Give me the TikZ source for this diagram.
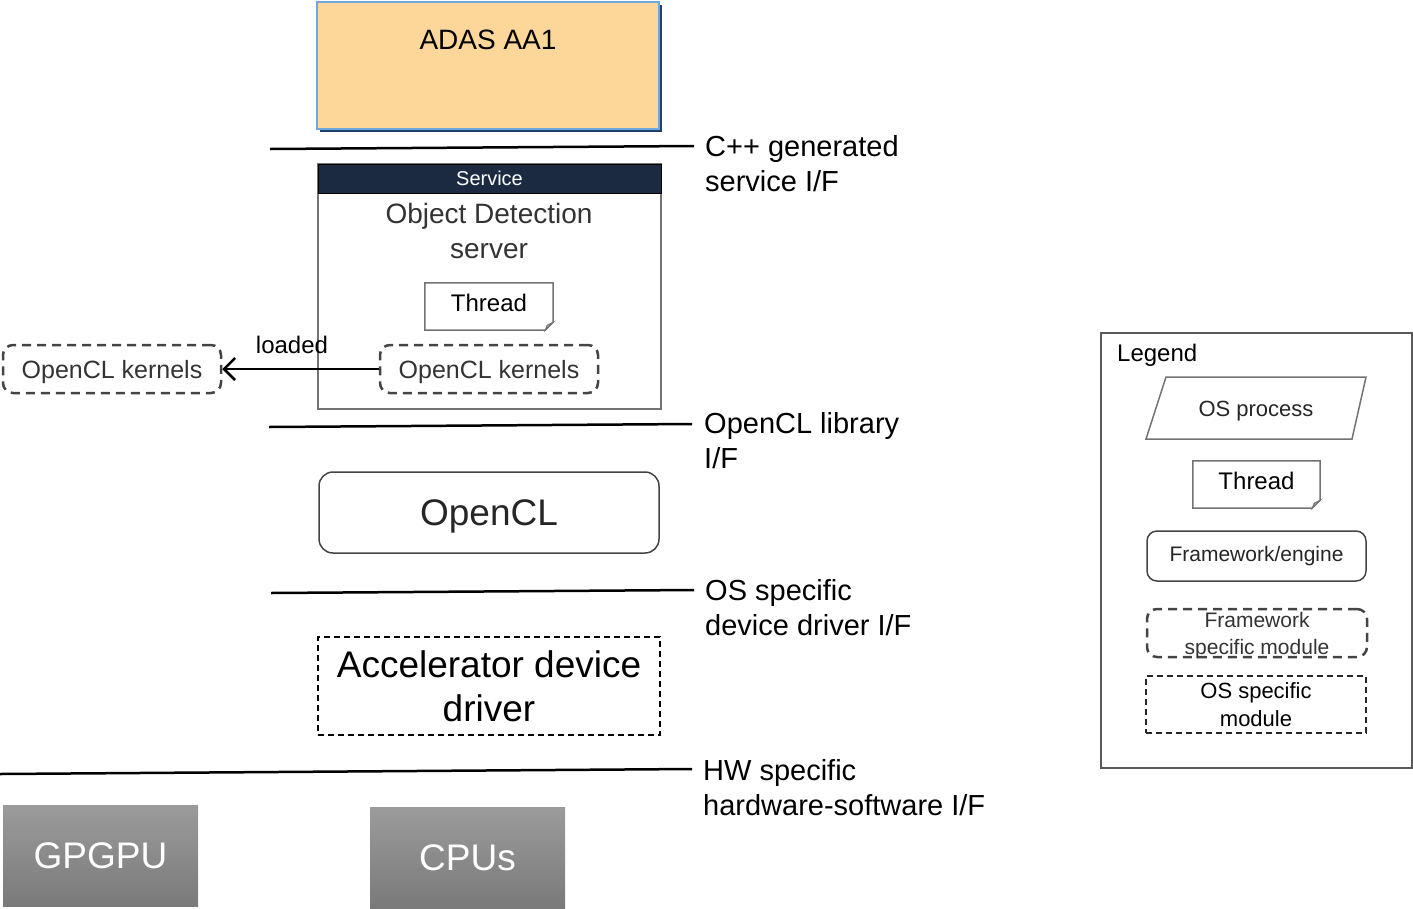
\documentclass[tikz,border=0pt]{standalone}
\usepackage{fontspec}
\setmainfont{Liberation Sans}
\usetikzlibrary{arrows.meta}
\definecolor{adasfill}{HTML}{FDD699}
\definecolor{adasline}{HTML}{6FA8DC}
\definecolor{adasshadow}{HTML}{1F3F6F}
\definecolor{svcnavy}{HTML}{1B2A40}
\definecolor{boxgray}{HTML}{444444}
\definecolor{hwtop}{HTML}{9B9B9B}
\definecolor{hwbottom}{HTML}{7A7A7A}
\tikzset{
  ifline/.style={line width=2.5pt},
  iflabel/.style={font=\fontsize{29}{35}\selectfont, align=left, anchor=west, inner sep=0pt},
  kernelbox/.style={draw=boxgray, line width=2.5pt, dash pattern=on 9pt off 6pt, rounded corners=10pt,
    minimum width=218pt, minimum height=48pt, inner sep=0pt, text=black!80, font=\fontsize{25}{29}\selectfont,
    text depth=0pt},
  engine/.style={draw=boxgray, line width=1.5pt, rounded corners=14pt, inner sep=0pt},
  osmodule/.style={draw=black, line width=2pt, dash pattern=on 6pt off 4pt, inner sep=0pt},
  hwbox/.style={top color=hwtop, bottom color=hwbottom, minimum width=195pt, minimum height=101pt,
    text=white, font=\fontsize{37}{44}\selectfont, inner sep=0pt},
  threadbox/.style={inner sep=0pt, font=\fontsize{24}{29}\selectfont, text depth=7pt},
}
\begin{document}
\begin{tikzpicture}[x=1pt, y=-1pt]
\useasboundingbox (0,0) rectangle (1413,908);
\newcommand\fold{8}
% thread shape with folded corner
\newcommand\threadshape[1]{
  \draw[draw=gray!90!black, line width=1.5pt] (#1.north west) -- (#1.north east) -- ([yshift=\fold pt]#1.south east)
    -- ([xshift=-\fold pt]#1.south east) -- (#1.south west) -- cycle;
  \filldraw[draw=gray!90!black, fill=gray!55, line width=1pt] ([yshift=\fold pt]#1.south east)
    -- ([xshift=-\fold pt]#1.south east) -- ([xshift=-6pt, yshift=5pt]#1.south east) -- cycle;
}

% ADAS application
\fill[adasshadow] (320,5) rectangle (662,132);
\node[fill=adasfill, draw=adasline, line width=1.5pt, minimum width=342pt, minimum height=127pt, inner sep=0pt]
  (adas) at (488,65.5) {};
\node[font=\fontsize{28}{35}\selectfont, inner sep=0pt] (adaslbl) at (488,40) {ADAS AA1};

% interface lines
\draw[ifline] (270,149) -- (694,146);
\node[iflabel] (ifcpp) at (705,163.5) {C++ generated\\service I/F};
\draw[ifline] (269,427) -- (692,424);
\node[iflabel] (ifocl) at (704,440.5) {OpenCL library\\I/F};
\draw[ifline] (271,593) -- (694,590);
\node[iflabel] (ifos) at (705,607.5) {OS specific\\device driver I/F};
\draw[ifline] (0,774) -- (692,769);
\node[iflabel] (ifhw) at (703,787.5) {HW specific\\hardware-software I/F};

% service process
\node[draw=gray!90!black, line width=1.5pt, minimum width=343pt, minimum height=245pt, inner sep=0pt]
  (svc) at (489.5,286.5) {};
\node[fill=svcnavy, draw=black, line width=1pt, minimum width=343pt, minimum height=29pt, inner sep=0pt,
  text=white, font=\fontsize{20}{24}\selectfont] (svchead) at (489.5,178.5) {Service};
\node[font=\fontsize{28}{35}\selectfont, align=center, inner sep=0pt, text=black!80] (svcname) at (489,231)
  {Object Detection\\server};
\node[threadbox, minimum width=128pt, minimum height=47pt] (thread) at (489,306.5) {Thread};
\threadshape{thread}
\node[kernelbox] (kin) at (489,369) {OpenCL kernels};
\node[kernelbox] (kout) at (112,369) {OpenCL kernels};
\draw[line width=2.5pt, -{Straight Barb[length=11pt, width=22pt, line width=2.5pt]}] (kin.west) -- (kout.east);
\node[font=\fontsize{24}{29}\selectfont, inner sep=0pt] (loadedlbl) at (292,345) {loaded};

% OpenCL framework
\node[engine, minimum width=340pt, minimum height=81pt, font=\fontsize{37}{44}\selectfont, text=black!85,
  text depth=0pt] (ocl) at (489,512.5) {OpenCL};

% device driver
\node[osmodule, minimum width=342pt, minimum height=98pt, align=center, font=\fontsize{37}{44}\selectfont]
  (drv) at (489,686) {Accelerator device\\driver};

% hardware
\node[hwbox] (gpgpu) at (100.5,855.5) {GPGPU};
\node[hwbox] (cpus) at (467.5,857.5) {CPUs};

% legend
\draw[draw=gray!70!black, line width=1.5pt] (1101,333) rectangle (1412,768);
\node[font=\fontsize{24}{29}\selectfont, anchor=west, inner sep=0pt] (legend) at (1117,355) {Legend};
\draw[draw=gray!90!black, line width=1.5pt] (1146,439) -- (1166,377) -- (1366,377) -- (1352,439) -- cycle;
\node[font=\fontsize{22}{27}\selectfont, inner sep=0pt, text=black!85] (legproc) at (1256,411) {OS process};
\node[threadbox, minimum width=127pt, minimum height=47pt] (legthread) at (1256.5,484.5) {Thread};
\threadshape{legthread}
\node[engine, rounded corners=10pt, minimum width=219pt, minimum height=50pt, font=\fontsize{21}{26}\selectfont,
  text=black!85] (legengine) at (1256.5,556) {Framework/engine};
\node[kernelbox, minimum width=220pt, minimum height=48pt] (legfw) at (1257,633) {};
\node[font=\fontsize{21}{27}\selectfont, align=center, inner sep=0pt, text=black!80] (legfwlbl)
  at ([yshift=-3pt]legfw.center) {Framework\\specific module};
\node[osmodule, draw=black!85, line width=2.5pt, minimum width=220pt, minimum height=57pt, align=center,
  font=\fontsize{22}{28}\selectfont] (legos) at (1256,704.5) {OS specific\\module};
\end{tikzpicture}
\end{document}
